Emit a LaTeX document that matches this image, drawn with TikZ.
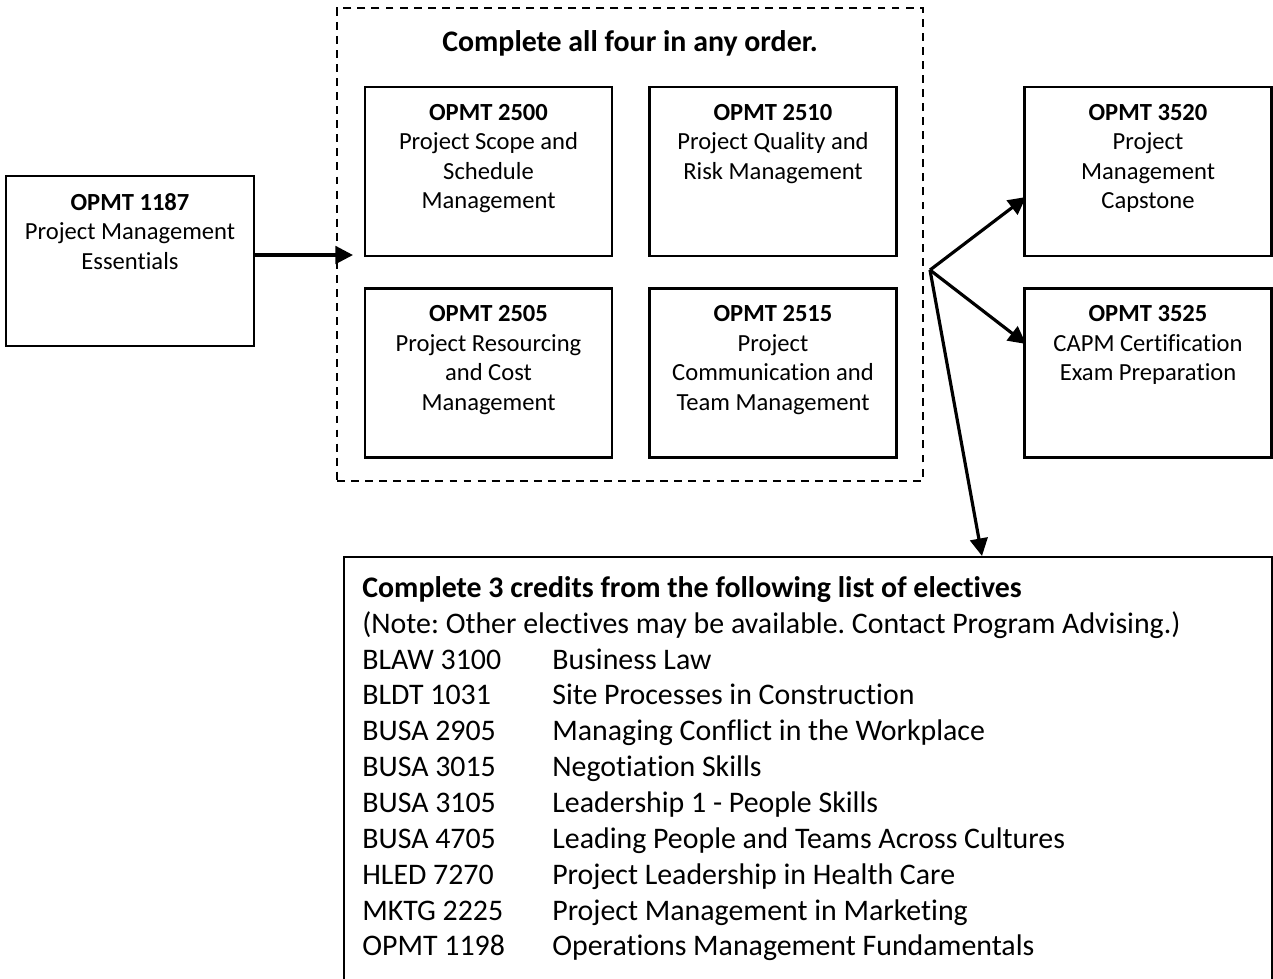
\documentclass[tikz,border=0pt]{standalone}
\usepackage{fontspec}
\setmainfont{Carlito}[Ligatures={NoCommon,NoContextual},Contextuals=NoAlternate]
\usetikzlibrary{arrows.meta,positioning}
\frenchspacing
\tikzset{
  course/.style={draw, line width=1.2pt, minimum width=4.94cm, minimum height=3.38cm, inner sep=0pt},
  ctext/.style={align=center, inner sep=0pt, font=\fontsize{14}{16.8}\selectfont},
  groupbox/.style={draw, dashed, dash pattern=on 4.5pt off 3.5pt, line width=1.1pt, minimum width=11.72cm, minimum height=9.46cm, inner sep=0pt},
  link/.style={-{Triangle[length=10pt,width=10pt]}, line width=1.8pt},
}
\begin{document}
\begin{tikzpicture}[x=0.02cm, y=-0.02cm]
\useasboundingbox (0,0) rectangle (1273,978);
\clip (0,0) rectangle (1273,978);

% entry course
\node[course, minimum width=4.96cm, minimum height=3.4cm] (c1187) at (130,261) {};
\node[ctext, below=0.36cm of c1187.north] (c1187t) {\textbf{OPMT 1187}\\Project Management\\Essentials};

% core courses, any order
\node[groupbox] (core) at (630,244.5) {};
\node[font=\bfseries\fontsize{17}{20.4}\selectfont, inner sep=0pt] (coretitle) at (630,43) {Complete all four in any order.};

\node[course] (c2500) at (488.5,171.5) {};
\node[ctext, below=0.36cm of c2500.north] (c2500t) {\textbf{OPMT 2500}\\Project Scope and\\Schedule\\Management};
\node[course] (c2510) at (773,171.5) {};
\node[ctext, below=0.36cm of c2510.north] (c2510t) {\textbf{OPMT 2510}\\Project Quality and\\Risk Management};
\node[course] (c2505) at (488.5,373) {};
\node[ctext, below=0.36cm of c2505.north] (c2505t) {\textbf{OPMT 2505}\\Project Resourcing\\and Cost\\Management};
\node[course] (c2515) at (773,373) {};
\node[ctext, below=0.36cm of c2515.north] (c2515t) {\textbf{OPMT 2515}\\Project\\Communication and\\Team Management};

% final courses
\node[course] (c3520) at (1148,171.5) {};
\node[ctext, below=0.36cm of c3520.north] (c3520t) {\textbf{OPMT 3520}\\Project\\Management\\Capstone};
\node[course] (c3525) at (1148,373) {};
\node[ctext, below=0.36cm of c3525.north] (c3525t) {\textbf{OPMT 3525}\\CAPM Certification\\Exam Preparation};

% electives
\node[draw, line width=1.2pt, minimum width=18.56cm, minimum height=10cm, inner sep=0pt, anchor=north west] (elect) at (343,556) {};
\node[anchor=north west, inner sep=0pt, font=\fontsize{17}{20.4}\selectfont] (electlist) at (362,572) {%
\begin{tabular}{@{}p{3.8cm}@{}l@{}}
\multicolumn{2}{@{}l@{}}{\textbf{Complete 3 credits from the following list of electives}}\\
\multicolumn{2}{@{}l@{}}{(Note: Other electives may be available. Contact Program Advising.)}\\
BLAW 3100 & Business Law\\
BLDT 1031 & Site Processes in Construction\\
BUSA 2905 & Managing Conflict in the Workplace\\
BUSA 3015 & Negotiation Skills\\
BUSA 3105 & Leadership 1 - People Skills\\
BUSA 4705 & Leading People and Teams Across Cultures\\
HLED 7270 & Project Leadership in Health Care\\
MKTG 2225 & Project Management in Marketing\\
OPMT 1198 & Operations Management Fundamentals
\end{tabular}};

% connectors
\coordinate (entry) at (353,255);
\coordinate (fork) at (930,270);
\coordinate (hit3520) at (1026,197);
\coordinate (hit3525) at (1026,344);
\coordinate (hitelect) at (982,556);

\draw[link] (c1187.east |- entry) -- (entry);
\draw[link] (fork) -- (hit3520);
\draw[link] (fork) -- (hit3525);
\draw[link] (fork) -- (hitelect);
\end{tikzpicture}
\end{document}
